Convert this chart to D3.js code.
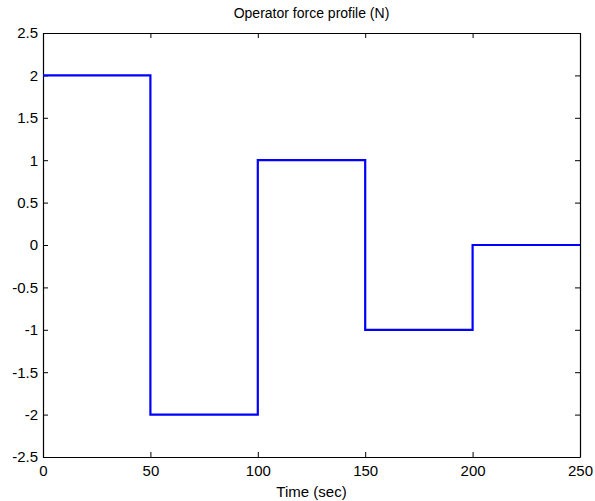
<!DOCTYPE html>
<html>
<head>
<meta charset="utf-8">
<script src="https://cdn.jsdelivr.net/npm/d3@7"></script>
<style>
  body { margin: 0; background: #fff; }
  text { font-family: "Liberation Sans", Arial, sans-serif; }
</style>
</head>
<body>
<div id="chart"></div>
<script>
// Step data: force level held from each start time
var stepTimes = [0, 50, 100, 150, 200, 250];
var stepForces = [2, -2, 1, -1, 0, 0];
var xTicks = [0, 50, 100, 150, 200, 250];
var yTicks = [-2.5, -2, -1.5, -1, -0.5, 0, 0.5, 1, 1.5, 2, 2.5];

var svgWidth = 595;
var svgHeight = 501;
var margin = { top: 33, right: 15, bottom: 44, left: 43 };
var width = svgWidth - margin.left - margin.right;
var height = svgHeight - margin.top - margin.bottom;

var svg = d3.select("#chart")
  .append("svg")
  .attr("width", svgWidth)
  .attr("height", svgHeight);

var chartGroup = svg.append("g")
  .attr("transform", `translate(${margin.left}, ${margin.top})`);

var xScale = d3.scaleLinear().domain([0, 250]).range([0, width]);
var yScale = d3.scaleLinear().domain([-2.5, 2.5]).range([height, 0]);

var fmt = d => String(d);

// bottom and left axes with inward ticks
chartGroup.append("g")
  .attr("transform", `translate(0, ${height})`)
  .call(d3.axisBottom(xScale).tickValues(xTicks).tickFormat(fmt).tickSizeInner(-5).tickSizeOuter(0).tickPadding(8));

chartGroup.append("g")
  .call(d3.axisLeft(yScale).tickValues(yTicks).tickFormat(fmt).tickSizeInner(-5).tickSizeOuter(0).tickPadding(5));

// top and right axes, ticks only
chartGroup.append("g")
  .call(d3.axisTop(xScale).tickValues(xTicks).tickFormat("").tickSizeInner(-5).tickSizeOuter(0));

chartGroup.append("g")
  .attr("transform", `translate(${width}, 0)`)
  .call(d3.axisRight(yScale).tickValues(yTicks).tickFormat("").tickSizeInner(-5).tickSizeOuter(0));

chartGroup.selectAll(".domain").attr("stroke", "#000").attr("stroke-width", 1.2);
chartGroup.selectAll(".tick line").attr("stroke", "#000");
chartGroup.selectAll(".tick text").style("font-size", "15px").attr("fill", "#000");

// step line
var points = stepTimes.map((t, i) => ({ t: t, f: stepForces[i] }));
var line = d3.line()
  .x(d => xScale(d.t))
  .y(d => yScale(d.f))
  .curve(d3.curveStepAfter);

chartGroup.append("path")
  .datum(points)
  .attr("d", line)
  .attr("fill", "none")
  .attr("stroke", "#0000ff")
  .attr("stroke-width", 2.2);

// title and axis label
svg.append("text")
  .attr("x", margin.left + width / 2)
  .attr("y", 18)
  .attr("text-anchor", "middle")
  .style("font-size", "14px")
  .text("Operator force profile (N)");

svg.append("text")
  .attr("x", margin.left + width / 2)
  .attr("y", 497)
  .attr("text-anchor", "middle")
  .style("font-size", "15px")
  .text("Time (sec)");
</script>
</body>
</html>
